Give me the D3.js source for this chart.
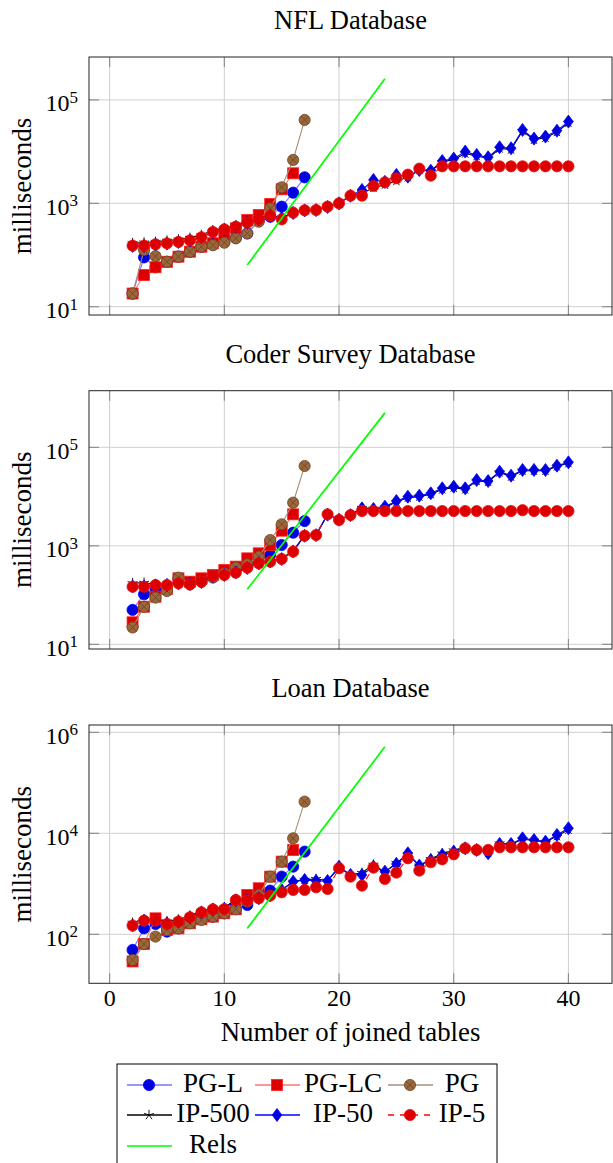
<!DOCTYPE html>
<html>
<head>
<meta charset="utf-8">
<script src="https://cdn.jsdelivr.net/npm/d3@7"></script>
<style>
  body { margin: 0; background: #fff; }
  text { font-family: "Liberation Serif", "Times New Roman", serif; fill: #000; }
</style>
</head>
<body>
<svg id="chart" width="613" height="1163"></svg>
<script>
// x categories (number of joined tables)
const joinsAll = [2,3,4,5,6,7,8,9,10,11,12,13,14,15,16,17,18,19,20,21,22,23,24,25,26,27,28,29,30,31,32,33,34,35,36,37,38,39,40];
const joinsPG = [2,3,4,5,6,7,8,9,10,11,12,13,14,15,16,17];
const joinsPGLC = [2,3,4,5,6,7,8,9,10,11,12,13,14,15,16];
const joinsRels = [12, 24];

// NFL Database (ms)
const nflPGL = [18, 90, 58, 74, 93, 116, 145, 160, 180, 215, 262, 475, 552, 862, 1607, 3185];
const nflPGLC = [18, 41, 58, 74, 93, 116, 145, 169, 244, 328, 475, 594, 970, 1866, 3810];
const nflPG = [18, 125, 95, 74, 93, 116, 145, 155, 173, 210, 262, 441, 800, 2040, 6900, 41000];
const nflIP500 = [170, 175, 180, 190, 200, 215, 245, 300, 330, 370, 440, 510, 600, 520, 680, 750, 760, 870, 1000, 1400,
  1550, 2000, 2300, 2700, 3200, 4400, 4200, 6300, 7000, 9200, 8200, 7400, 11500, 11000, 25000, 17000, 18500, 24000, 36000];
const nflIP50 = [150, 150, 160, 168, 178, 190, 218, 275, 310, 350, 420, 485, 570, 520, 650, 730, 740, 850, 1000, 1400,
  1811, 2830, 2600, 3535, 3280, 4400, 4285, 6590, 7325, 10000, 8610, 7760, 12140, 11610, 26260, 17850, 19530, 25450, 38100];
const nflIP5 = [152, 152, 161, 168, 179, 192, 220, 279, 314, 353, 422, 490, 577, 490, 659, 733, 743, 862, 1000, 1406,
  1406, 2164, 2545, 3046, 3588, 4690, 3430, 5200, 5200, 5200, 5200, 5200, 5200, 5200, 5200, 5200, 5200, 5200, 5200];
const nflRels = [64, 257000];

// Coder Survey Database (ms)
const coderPGL = [50, 104, 127, 135, 210, 180, 190, 240, 300, 350, 378, 477, 651, 1041, 1850, 3190];
const coderPGLC = [28, 58, 93, 133, 219, 187, 219, 256, 323, 378, 557, 705, 1041, 2032, 4365];
const coderPG = [22, 58, 89, 121, 226, 165, 187, 226, 277, 360, 421, 603, 1313, 2735, 7520, 41800];
const coderIP500 = [175, 178, 165, 170, 180, 175, 195, 250, 265, 295, 370, 450, 490, 560, 790, 1650, 1700, 4400, 3400, 4300,
  5900, 5700, 6000, 7800, 9500, 10000, 11200, 14000, 15200, 14000, 20800, 20000, 31000, 25500, 33500, 33500, 33500, 41000, 48000];
const coderIP50 = [150, 150, 158, 160, 172, 168, 185, 240, 255, 290, 355, 440, 480, 540, 770, 1600, 1650, 4300, 3400, 4200,
  5770, 5600, 6240, 8130, 9950, 10440, 11650, 14710, 15900, 14710, 21700, 20700, 32060, 26600, 34670, 34670, 34670, 42450, 49550];
const coderIP5 = [148, 148, 160, 160, 173, 165, 187, 244, 256, 285, 360, 441, 477, 541, 762, 1608, 1660, 4365, 3350, 4225,
  5090, 5090, 5090, 5090, 5090, 5090, 5090, 5090, 5090, 5090, 5090, 5090, 5090, 5090, 5300, 5090, 5090, 5090, 5090];
const coderRels = [131, 501000];

// Loan Database (ms)
const loanPGL = [49, 131, 160, 113, 131, 178, 224, 224, 261, 327, 381, 649, 733, 1387, 2188, 4335];
const loanPGLC = [29, 64, 207, 122, 131, 165, 198, 224, 261, 313, 601, 815, 1387, 2748, 4677];
const loanPG = [31, 64, 90, 122, 131, 165, 192, 224, 261, 313, 444, 601, 1387, 2748, 7960, 42400];
const loanIP500 = [170, 200, 200, 180, 195, 235, 290, 330, 340, 490, 490, 540, 610, 760, 1100, 1200, 1250, 1150, 2100, 1500,
  1650, 2400, 1700, 2600, 3800, 2300, 3100, 4000, 4600, 5200, 4800, 4100, 6300, 6000, 7600, 7200, 6700, 8800, 11800];
const loanIP50 = [150, 185, 185, 165, 180, 215, 270, 310, 320, 470, 470, 520, 590, 750, 1104, 1191, 1138, 1138, 2188, 1497,
  1497, 2188, 1741, 2472, 4018, 2292, 2963, 3725, 4335, 5045, 4677, 4018, 6157, 6157, 7960, 7380, 6840, 9270, 12570];
const loanIP5 = [149, 187, 187, 160, 178, 217, 273, 313, 316, 479, 464, 516, 583, 679, 756, 756, 853, 791, 2028, 1387,
  920, 2090, 1248, 1664, 3200, 1824, 2670, 3055, 3838, 5045, 4677, 4677, 5285, 5285, 5285, 5285, 5285, 5285, 5285];
const loanRels = [131, 519000];

const xTicks = [0, 10, 20, 30, 40];

// series styles
const styles = {
  "PG-L":   { line: "#7373ff", mark: "circle", fill: "#0000e0", stroke: "#0000ff" },
  "PG-LC":  { line: "#ff7373", mark: "square", fill: "#dd0000", stroke: "#ff2020" },
  "PG":     { line: "#a88f74", mark: "otimes", fill: "#9a663a", stroke: "#6b4626" },
  "IP-500": { line: "#000000", mark: "star", fill: "none", stroke: "#000000" },
  "IP-50":  { line: "#0000ff", mark: "diamond", fill: "#0000dd", stroke: "#0000ff" },
  "IP-5":   { line: "#ff0000", mark: "circle", fill: "#dd0000", stroke: "#ee1111", dash: "6,6" },
  "Rels":   { line: "#00ff00", mark: null, width: 1.7 }
};

const panels = [
  { title: "NFL Database", top: 57, bottom: 315, domain: [6.92, 676000], yTicks: [1e1, 1e3, 1e5],
    series: [["PG-L", joinsPG, nflPGL], ["PG-LC", joinsPGLC, nflPGLC], ["PG", joinsPG, nflPG],
             ["IP-500", joinsAll, nflIP500], ["IP-50", joinsAll, nflIP50], ["IP-5", joinsAll, nflIP5], ["Rels", joinsRels, nflRels]] },
  { title: "Coder Survey Database", top: 390.7, bottom: 649, domain: [8.04, 1413000], yTicks: [1e1, 1e3, 1e5],
    series: [["PG-L", joinsPG, coderPGL], ["PG-LC", joinsPGLC, coderPGLC], ["PG", joinsPG, coderPG],
             ["IP-500", joinsAll, coderIP500], ["IP-50", joinsAll, coderIP50], ["IP-5", joinsAll, coderIP5], ["Rels", joinsRels, coderRels]] },
  { title: "Loan Database", top: 725, bottom: 983.3, domain: [10.7, 1396000], yTicks: [1e2, 1e4, 1e6],
    series: [["PG-L", joinsPG, loanPGL], ["PG-LC", joinsPGLC, loanPGLC], ["PG", joinsPG, loanPG],
             ["IP-500", joinsAll, loanIP500], ["IP-50", joinsAll, loanIP50], ["IP-5", joinsAll, loanIP5], ["Rels", joinsRels, loanRels]] }
];

const left = 89, right = 612;
const svg = d3.select("#chart");
const x = d3.scaleLinear().domain([-1.8, 43.8]).range([left, right]);

// draw one marker centred at (0,0) inside g
function drawMark(g, st) {
  if (st.mark === "circle") {
    g.append("circle").attr("r", 5.6).attr("fill", st.fill).attr("stroke", st.stroke).attr("stroke-width", 0.8);
  } else if (st.mark === "square") {
    g.append("rect").attr("x", -5.5).attr("y", -5.5).attr("width", 11).attr("height", 11)
      .attr("fill", st.fill).attr("stroke", st.stroke).attr("stroke-width", 0.8);
  } else if (st.mark === "otimes") {
    g.append("circle").attr("r", 5.6).attr("fill", st.fill).attr("stroke", st.stroke).attr("stroke-width", 0.8);
    const d = 3.9;
    g.append("path").attr("d", `M${-d},${-d}L${d},${d}M${-d},${d}L${d},${-d}`)
      .attr("stroke", st.stroke).attr("stroke-width", 0.8);
  } else if (st.mark === "star") {
    let p = "";
    for (let i = 0; i < 5; i++) {
      const a = -Math.PI / 2 + i * 2 * Math.PI / 5;
      p += `M0,0L${(5.2 * Math.cos(a)).toFixed(2)},${(5.2 * Math.sin(a)).toFixed(2)}`;
    }
    g.append("path").attr("d", p).attr("stroke", st.stroke).attr("stroke-width", 0.9).attr("fill", "none");
  } else if (st.mark === "diamond") {
    g.append("path").attr("d", "M0,-6.5L4.8,0L0,6.5L-4.8,0Z")
      .attr("fill", st.fill).attr("stroke", st.stroke).attr("stroke-width", 0.8);
  }
}

panels.forEach(function (p, pi) {
  const y = d3.scaleLog().domain(p.domain).range([p.bottom, p.top]);
  const g = svg.append("g");

  // grid
  g.append("g").selectAll("line").data(xTicks).enter().append("line")
    .attr("x1", d => x(d)).attr("x2", d => x(d)).attr("y1", p.top).attr("y2", p.bottom)
    .attr("stroke", "#cfcfcf").attr("stroke-width", 1);
  g.append("g").selectAll("line").data(p.yTicks).enter().append("line")
    .attr("x1", left).attr("x2", right).attr("y1", d => y(d)).attr("y2", d => y(d))
    .attr("stroke", "#cfcfcf").attr("stroke-width", 1);

  // ticks (inside, all four sides)
  const tk = g.append("g").attr("stroke", "#8a8a8a").attr("stroke-width", 1.1);
  xTicks.forEach(function (d) {
    tk.append("line").attr("x1", x(d)).attr("x2", x(d)).attr("y1", p.bottom).attr("y2", p.bottom - 10);
    tk.append("line").attr("x1", x(d)).attr("x2", x(d)).attr("y1", p.top).attr("y2", p.top + 10);
  });
  p.yTicks.forEach(function (d) {
    tk.append("line").attr("x1", left).attr("x2", left + 10).attr("y1", y(d)).attr("y2", y(d));
    tk.append("line").attr("x1", right).attr("x2", right - 10).attr("y1", y(d)).attr("y2", y(d));
  });

  // series
  p.series.forEach(function (s) {
    const st = styles[s[0]];
    const pts = s[1].map((j, i) => [j, s[2][i]]);
    const line = d3.line().x(d => x(d[0])).y(d => y(d[1]));
    g.append("path").datum(pts).attr("d", line)
      .attr("fill", "none").attr("stroke", st.line).attr("stroke-width", st.width || 1.1)
      .attr("stroke-dasharray", st.dash || null);
    if (st.mark) {
      g.append("g").selectAll("g").data(pts).enter().append("g")
        .attr("transform", d => `translate(${x(d[0])},${y(d[1])})`)
        .each(function () { drawMark(d3.select(this), st); });
    }
  });

  // frame
  g.append("rect").attr("x", left).attr("y", p.top).attr("width", right - left).attr("height", p.bottom - p.top)
    .attr("fill", "none").attr("stroke", "#222").attr("stroke-width", 1);

  // y tick labels 10^k
  p.yTicks.forEach(function (d) {
    const t = g.append("text").attr("x", 78).attr("y", y(d) + 11.5).attr("text-anchor", "end").style("font-size", "24px");
    t.append("tspan").text("10");
    t.append("tspan").attr("dy", -8.7).style("font-size", "17px").text(Math.round(Math.log10(d)));
  });

  // title
  g.append("text").attr("x", (left + right) / 2).attr("y", p.top - 28).attr("text-anchor", "middle")
    .style("font-size", "26.5px").text(p.title);

  // y label
  g.append("text").attr("transform", `translate(31,${(p.top + p.bottom) / 2}) rotate(-90)`)
    .attr("text-anchor", "middle").style("font-size", "27px").text("milliseconds");

  // x tick labels on bottom panel only
  if (pi === panels.length - 1) {
    g.append("g").selectAll("text").data(xTicks).enter().append("text")
      .attr("x", d => x(d)).attr("y", p.bottom + 23).attr("text-anchor", "middle")
      .style("font-size", "24px").text(d => d);
    g.append("text").attr("x", (left + right) / 2).attr("y", 1041).attr("text-anchor", "middle")
      .style("font-size", "26.8px").text("Number of joined tables");
  }
});

// legend
const legendNames = ["PG-L", "PG-LC", "PG", "IP-500", "IP-50", "IP-5", "Rels"];
const colX = [127, 255, 388], colText = [213, 343, 462];
const rowY = [1085, 1115, 1146];
const lg = svg.append("g");
lg.append("rect").attr("x", 117).attr("y", 1064).attr("width", 380).attr("height", 120)
  .attr("fill", "#fff").attr("stroke", "#000").attr("stroke-width", 1);
legendNames.forEach(function (n, i) {
  const st = styles[n];
  const cx = colX[i % 3], cy = rowY[Math.floor(i / 3)];
  lg.append("line").attr("x1", cx).attr("x2", cx + 45).attr("y1", cy).attr("y2", cy)
    .attr("stroke", st.line).attr("stroke-width", st.width || 1.3).attr("stroke-dasharray", st.dash || null);
  if (st.mark) drawMark(lg.append("g").attr("transform", `translate(${cx + 22},${cy})`), st);
  lg.append("text").attr("x", colText[i % 3]).attr("y", cy + 7).attr("text-anchor", "middle")
    .style("font-size", "27px").text(n);
});
</script>
</body>
</html>
